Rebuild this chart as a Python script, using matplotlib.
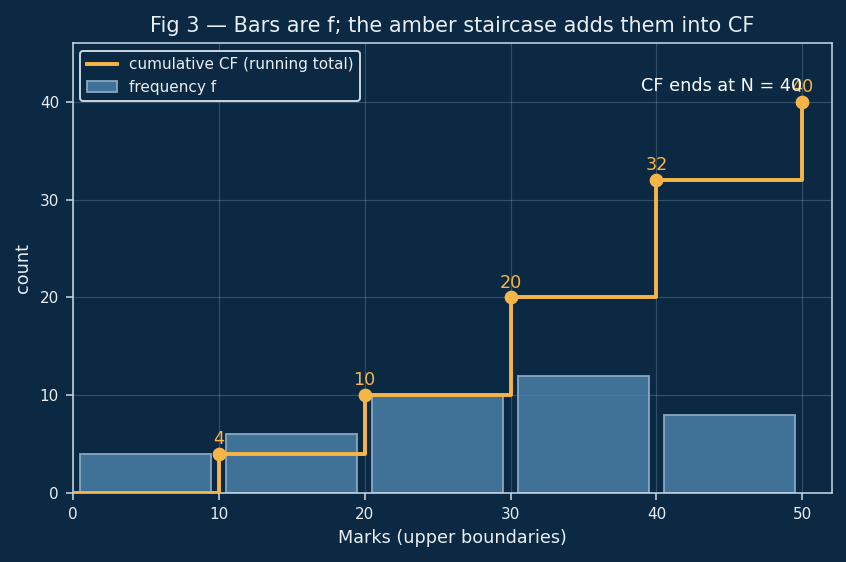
import numpy as np
import matplotlib.pyplot as plt

# class data: upper boundaries, frequencies, cumulative frequency
upper = [10, 20, 30, 40, 50]
freq = [4, 6, 10, 12, 8]
cf = [4, 10, 20, 32, 40]
mids = [5, 15, 25, 35, 45]

bg = '#0b2942'
amber = '#f7b548'
fg = '#e8eef4'

fig, ax = plt.subplots(figsize=(6, 3.986), dpi=141)
fig.patch.set_facecolor(bg)
ax.set_facecolor(bg)

ax.bar(mids, freq, width=9, color='#4a7fa6', alpha=0.85, edgecolor='#8fb0c8',
       linewidth=1, label='frequency f', zorder=2)

step_x = [0] + upper
step_y = [0] + cf
ax.step(step_x, step_y, where='post', color=amber, lw=2,
        label='cumulative CF (running total)', zorder=3)
ax.plot(upper, cf, 'o', color=amber, ms=6, zorder=4)
for x, y in zip(upper, cf):
    ax.annotate(str(y), (x, y), xytext=(0, 3), textcoords='offset points',
                ha='center', va='bottom', color=amber, fontsize=9)

ax.text(50, 40.7, 'CF ends at N = 40', ha='right', va='bottom', color='white', fontsize=9)

ax.set_xlim(0, 52)
ax.set_ylim(0, 46)
ax.set_xticks([0, 10, 20, 30, 40, 50])
ax.set_yticks([0, 10, 20, 30, 40])
ax.grid(True, color='#8fa8bf', alpha=0.3, lw=0.6)
ax.set_axisbelow(True)

for s in ax.spines.values():
    s.set_color('#c8d6e4')
ax.tick_params(colors='#c8d6e4', labelcolor=fg, labelsize=7.8)

ax.set_xlabel('Marks (upper boundaries)', color=fg, fontsize=9)
ax.set_ylabel('count', color=fg, fontsize=9)
ax.set_title('Fig 3 — Bars are f; the amber staircase adds them into CF', color=fg, fontsize=10.7)

leg = ax.legend(loc='upper left', fontsize=7.8, facecolor=bg, edgecolor='#c8d6e4',
                framealpha=1, labelcolor=fg)

fig.subplots_adjust(left=0.086, right=0.983, top=0.923, bottom=0.123)
fig.savefig('out.png', facecolor=bg)
